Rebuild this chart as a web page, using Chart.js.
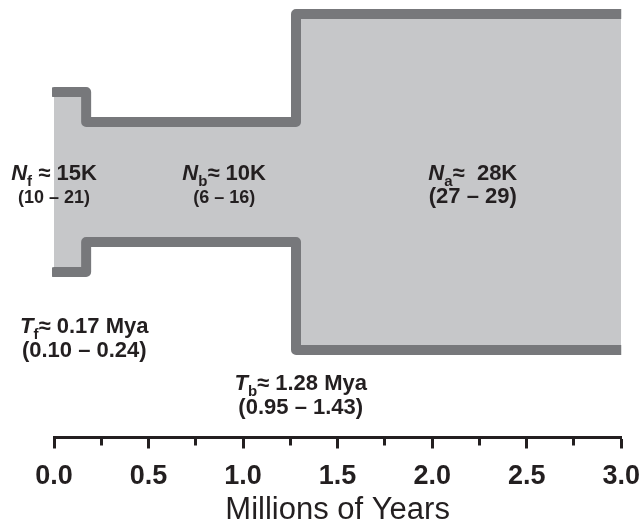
<!DOCTYPE html>
<html>
<head>
<meta charset="utf-8">
<script src="https://cdn.jsdelivr.net/npm/chart.js@4/dist/chart.umd.min.js"></script>
<style>
  html, body { margin: 0; padding: 0; background: #ffffff; }
  #wrap { width: 642px; height: 523px; position: relative; }
</style>
</head>
<body>
<div id="wrap"><canvas id="chart"></canvas></div>
<script>
// Demographic model: founder, bottleneck and ancestral epochs
const epochStart = [0, 0.17, 1.28];          // Mya, start of each epoch (going back in time)
const modelEnd = 3.0;                         // Mya, end of the axis
const popSize = [15, 10, 28];                 // effective size, thousands
const popSub = ['f', 'b', 'a'];
const popSep = [' ≈ ', '≈ ', '≈  '];
const popCI = ['(10 – 21)', '(6 – 16)', '(27 – 29)'];
const timeSub = ['f', 'b'];
const timeEst = [0.17, 1.28];                 // Mya
const timeCI = ['(0.10 – 0.24)', '(0.95 – 1.43)'];
const tickStep = 0.25;
const tickLabelStep = 0.5;
const axisTitle = 'Millions of Years';

const FAMILY = '"Liberation Sans", Arial, Helvetica, sans-serif';
const INK = '#231f20';
const FILL = '#c6c7c9';
const EDGE = '#77787b';

// Upper and lower edges of the population "tube" (width = population size)
const upperEdge = epochStart.map((t, i) => ({ x: t, y: popSize[i] / 2 }));
upperEdge.push({ x: modelEnd, y: popSize[popSize.length - 1] / 2 });
const lowerEdge = upperEdge.map(p => ({ x: p.x, y: -p.y }));

// Placement of the annotation text (x in Mya, y in thousands on the size scale)
const popLabelX = [0, 0.9, 2.215];
const popLabelY = 0.17;
const popCIFont = [18, 18, 22];
const timeLabelOffsetX = [-0.01, 0.025];
const timeLabelY = [-12.6, -17.35];

const isLabelledTick = v => Math.abs(v / tickLabelStep - Math.round(v / tickLabelStep)) < 1e-6;

function drawRich(ctx, parts, cx, baseline) {
  let total = 0;
  parts.forEach(p => { ctx.font = p.font; p.w = ctx.measureText(p.text).width; total += p.w; });
  let x = cx - total / 2;
  parts.forEach(p => {
    ctx.font = p.font;
    ctx.fillText(p.text, x, baseline + (p.dy || 0));
    x += p.w;
  });
}

function labelParts(symbol, sub, rest) {
  return [
    { text: symbol, font: `italic bold 22px ${FAMILY}` },
    { text: sub, font: `bold 15px ${FAMILY}`, dy: 6 },
    { text: rest, font: `bold 22px ${FAMILY}` }
  ];
}

const annotations = {
  id: 'modelAnnotations',
  afterDatasetsDraw(chart) {
    const { ctx, scales: { x, y } } = chart;
    ctx.save();
    ctx.fillStyle = INK;
    ctx.textBaseline = 'alphabetic';
    ctx.textAlign = 'left';
    popSize.forEach((n, i) => {
      const cx = x.getPixelForValue(popLabelX[i]);
      const by = y.getPixelForValue(popLabelY);
      drawRich(ctx, labelParts('N', popSub[i], popSep[i] + n + 'K'), cx, by);
      drawRich(ctx, [{ text: popCI[i], font: `bold ${popCIFont[i]}px ${FAMILY}` }], cx, by + 23);
    });
    timeEst.forEach((t, i) => {
      const cx = x.getPixelForValue(t + timeLabelOffsetX[i]);
      const by = y.getPixelForValue(timeLabelY[i]);
      drawRich(ctx, labelParts('T', timeSub[i], '≈ ' + t.toFixed(2) + ' Mya'), cx, by);
      drawRich(ctx, [{ text: timeCI[i], font: `bold 22px ${FAMILY}` }], cx, by + 23.5);
    });
    ctx.restore();
  }
};

const edgeStyle = {
  stepped: 'before',
  borderColor: EDGE,
  borderWidth: 10,
  borderCapStyle: 'round',
  borderJoinStyle: 'round',
  pointRadius: 0,
  pointHoverRadius: 0,
  tension: 0,
  clip: { left: 2, right: 0, top: 20, bottom: 20 }
};

new Chart(document.getElementById('chart'), {
  type: 'line',
  data: {
    datasets: [
      Object.assign({ label: 'upper', data: upperEdge, fill: '+1', backgroundColor: FILL }, edgeStyle),
      Object.assign({ label: 'lower', data: lowerEdge, fill: false }, edgeStyle)
    ]
  },
  options: {
    responsive: true,
    maintainAspectRatio: false,
    animation: false,
    events: [],
    layout: { padding: { left: 54, right: 20.5, top: 0, bottom: 0 } },
    plugins: {
      legend: { display: false },
      tooltip: { enabled: false },
      filler: { drawTime: 'beforeDatasetsDraw' }
    },
    scales: {
      x: {
        type: 'linear',
        min: 0,
        max: modelEnd,
        border: { display: true, color: INK, width: 3 },
        grid: {
          drawOnChartArea: false,
          drawTicks: true,
          tickLength: 11,
          tickWidth: 3,
          tickColor: INK,
          // minor ticks are drawn shorter than labelled ones
          tickBorderDash: ctx => (ctx.tick && isLabelledTick(ctx.tick.value)) ? [] : [6.5, 30]
        },
        ticks: {
          stepSize: tickStep,
          autoSkip: false,
          maxRotation: 0,
          color: INK,
          padding: 2,
          font: { family: FAMILY, size: 27, weight: 'bold', lineHeight: 1.926 },
          callback: v => isLabelledTick(v) ? v.toFixed(1) : ''
        },
        title: {
          display: true,
          text: axisTitle,
          color: INK,
          font: { family: FAMILY, size: 31, weight: 'normal', lineHeight: 1.0 },
          padding: { top: -9.5, bottom: -3 }
        }
      },
      y: {
        type: 'linear',
        display: false,
        min: -21.29,
        max: 15.17
      }
    }
  },
  plugins: [annotations]
});
</script>
</body>
</html>
